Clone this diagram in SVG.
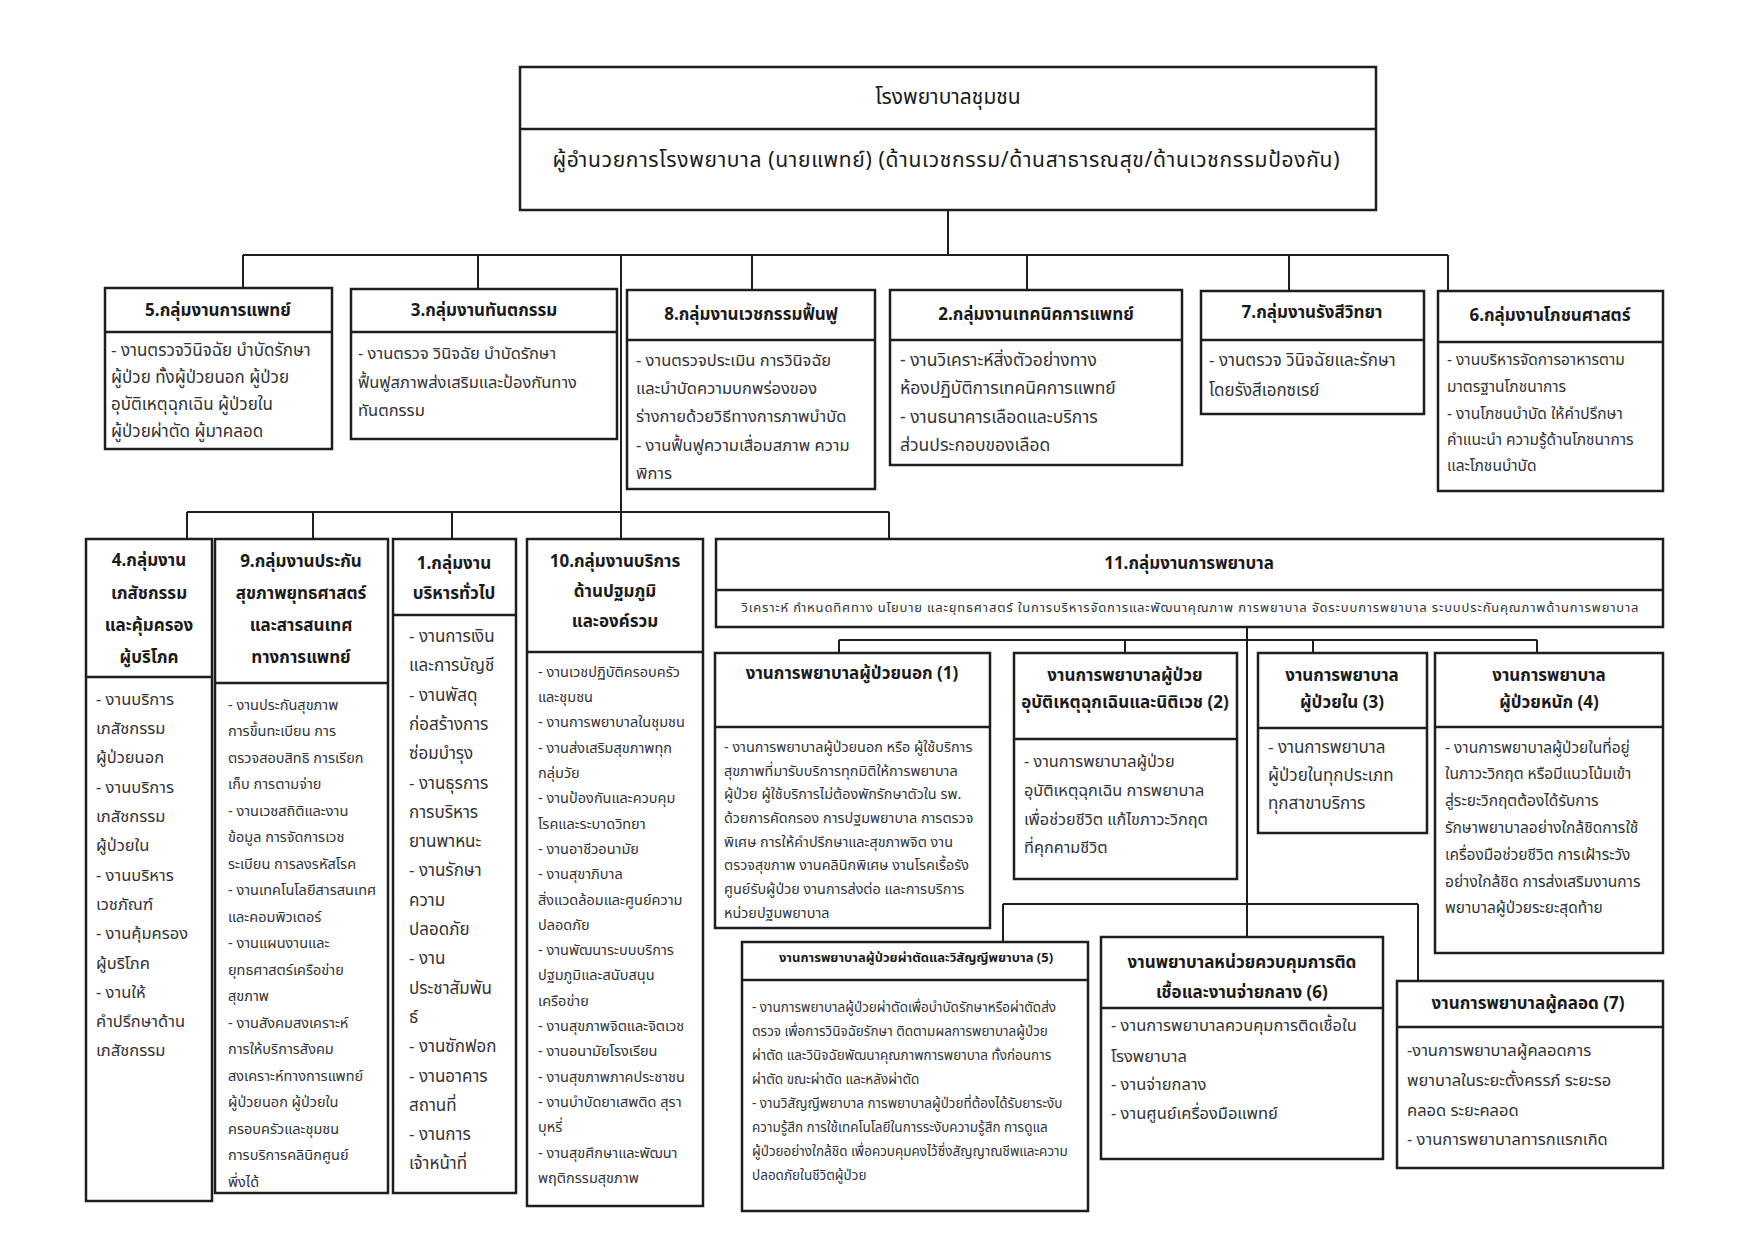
<svg xmlns="http://www.w3.org/2000/svg" width="1754" height="1240" viewBox="0 0 1754 1240">
<style>
.bx{fill:#fff;stroke:#1e1e1e;stroke-width:2.5}
.dv{stroke:#1e1e1e;stroke-width:2.5}
.cn{stroke:#1e1e1e;stroke-width:2;fill:none}
text{font-family:"Noto Sans Thai","Noto Sans","DejaVu Sans",sans-serif;fill:#1a1a1a}
.t{font-size:21px;text-anchor:middle}
.h{font-size:17px;font-weight:bold;text-anchor:middle}
.hs{font-size:13px;font-weight:bold;text-anchor:middle}
.b{fill:#333}
</style>
<rect width="1754" height="1240" fill="#fff"/>
<g id="connectors">
<path class="cn" d="M948 210V255M243 255H1448M243 255V288M478 255V289M621 255V539M752 255V290M1027 255V290M1289 255V291M1448 255V291"/>
<path class="cn" d="M187 512H889M187 512V539M313 512V539M452 512V539M889 512V539"/>
<path class="cn" d="M1247 627V937M839 640H1537M839 640V653M1125 640V653M1313 640V653M1537 640V653"/>
<path class="cn" d="M1003 904H1418M1003 904V942M1418 904V981"/>
</g>
<g id="top">
<rect class="bx" x="520" y="67" width="856" height="143"/>
<line class="dv" x1="520" y1="129" x2="1376" y2="129"/>
<text class="t" x="948" y="104">โรงพยาบาลชุมชน</text>
<text class="t" x="946" y="167" textLength="787">ผู้อำนวยการโรงพยาบาล (นายแพทย์) (ด้านเวชกรรม/ด้านสาธารณสุข/ด้านเวชกรรมป้องกัน)</text>
</g>
<g id="g5">
<rect class="bx" x="105" y="288" width="227" height="161"/>
<line class="dv" x1="105" y1="332" x2="332" y2="332"/>
<text class="h" x="218" y="316">5.กลุ่มงานการแพทย์</text>
<text class="b" font-size="17"><tspan x="111" y="356">- งานตรวจวินิจฉัย บำบัดรักษา</tspan><tspan x="111" y="383">ผู้ป่วย ทั้งผู้ป่วยนอก ผู้ป่วย</tspan><tspan x="111" y="410">อุบัติเหตุฉุกเฉิน ผู้ป่วยใน</tspan><tspan x="111" y="437">ผู้ป่วยผ่าตัด ผู้มาคลอด</tspan></text>
</g>
<g id="g3">
<rect class="bx" x="351" y="289" width="266" height="150"/>
<line class="dv" x1="351" y1="332" x2="617" y2="332"/>
<text class="h" x="484" y="316">3.กลุ่มงานทันตกรรม</text>
<text class="b" font-size="16.5"><tspan x="358" y="359">- งานตรวจ วินิจฉัย บำบัดรักษา</tspan><tspan x="358" y="388">ฟื้นฟูสภาพส่งเสริมและป้องกันทาง</tspan><tspan x="358" y="416">ทันตกรรม</tspan></text>
</g>
<g id="g8">
<rect class="bx" x="627" y="290" width="248" height="199"/>
<line class="dv" x1="627" y1="340" x2="875" y2="340"/>
<text class="h" x="751" y="320" font-size="19.5">8.กลุ่มงานเวชกรรมฟื้นฟู</text>
<text class="b" font-size="16.5"><tspan x="636" y="366">- งานตรวจประเมิน การวินิจฉัย</tspan><tspan x="636" y="394">และบำบัดความบกพร่องของ</tspan><tspan x="636" y="422">ร่างกายด้วยวิธีทางการภาพบำบัด</tspan><tspan x="636" y="451">- งานฟื้นฟูความเสื่อมสภาพ ความ</tspan><tspan x="636" y="479">พิการ</tspan></text>
</g>
<g id="g2">
<rect class="bx" x="890" y="290" width="292" height="175"/>
<line class="dv" x1="890" y1="340" x2="1182" y2="340"/>
<text class="h" x="1036" y="320" font-size="18.5">2.กลุ่มงานเทคนิคการแพทย์</text>
<text class="b" font-size="17.5"><tspan x="900" y="366">- งานวิเคราะห์สิ่งตัวอย่างทาง</tspan><tspan x="900" y="394">ห้องปฏิบัติการเทคนิคการแพทย์</tspan><tspan x="900" y="423">- งานธนาคารเลือดและบริการ</tspan><tspan x="900" y="451">ส่วนประกอบของเลือด</tspan></text>
</g>
<g id="g7">
<rect class="bx" x="1201" y="291" width="223" height="123"/>
<line class="dv" x1="1201" y1="340" x2="1424" y2="340"/>
<text class="h" x="1312" y="318">7.กลุ่มงานรังสีวิทยา</text>
<text class="b" font-size="17"><tspan x="1209" y="366">- งานตรวจ วินิจฉัยและรักษา</tspan><tspan x="1209" y="396">โดยรังสีเอกซเรย์</tspan></text>
</g>
<g id="g6">
<rect class="bx" x="1438" y="291" width="225" height="200"/>
<line class="dv" x1="1438" y1="342" x2="1663" y2="342"/>
<text class="h" x="1550" y="321">6.กลุ่มงานโภชนศาสตร์</text>
<text class="b" font-size="15.5"><tspan x="1447" y="365">- งานบริหารจัดการอาหารตาม</tspan><tspan x="1447" y="392">มาตรฐานโภชนาการ</tspan><tspan x="1447" y="419">- งานโภชนบำบัด ให้คำปรึกษา</tspan><tspan x="1447" y="445">คำแนะนำ ความรู้ด้านโภชนาการ</tspan><tspan x="1447" y="471">และโภชนบำบัด</tspan></text>
</g>
<g id="g4">
<rect class="bx" x="86" y="539" width="126" height="662"/>
<line class="dv" x1="86" y1="677" x2="212" y2="677"/>
<text class="h"><tspan x="149" y="566">4.กลุ่มงาน</tspan><tspan x="149" y="599">เภสัชกรรม</tspan><tspan x="149" y="631">และคุ้มครอง</tspan><tspan x="149" y="663">ผู้บริโภค</tspan></text>
<text class="b" font-size="16.5"><tspan x="96" y="705">- งานบริการ</tspan><tspan x="96" y="734">เภสัชกรรม</tspan><tspan x="96" y="763">ผู้ป่วยนอก</tspan><tspan x="96" y="793">- งานบริการ</tspan><tspan x="96" y="822">เภสัชกรรม</tspan><tspan x="96" y="851">ผู้ป่วยใน</tspan><tspan x="96" y="881">- งานบริหาร</tspan><tspan x="96" y="910">เวชภัณฑ์</tspan><tspan x="96" y="939">- งานคุ้มครอง</tspan><tspan x="96" y="969">ผู้บริโภค</tspan><tspan x="96" y="998">- งานให้</tspan><tspan x="96" y="1027">คำปรึกษาด้าน</tspan><tspan x="96" y="1056">เภสัชกรรม</tspan></text>
</g>
<g id="g9">
<rect class="bx" x="215" y="539" width="173" height="654"/>
<line class="dv" x1="215" y1="683" x2="388" y2="683"/>
<text class="h"><tspan x="301" y="567">9.กลุ่มงานประกัน</tspan><tspan x="301" y="599">สุขภาพยุทธศาสตร์</tspan><tspan x="301" y="631">และสารสนเทศ</tspan><tspan x="301" y="663">ทางการแพทย์</tspan></text>
<text class="b" font-size="14.5"><tspan x="228" y="710">- งานประกันสุขภาพ</tspan><tspan x="228" y="736">การขึ้นทะเบียน การ</tspan><tspan x="228" y="763">ตรวจสอบสิทธิ การเรียก</tspan><tspan x="228" y="789">เก็บ การตามจ่าย</tspan><tspan x="228" y="816">- งานเวชสถิติและงาน</tspan><tspan x="228" y="842">ข้อมูล การจัดการเวช</tspan><tspan x="228" y="869">ระเบียน การลงรหัสโรค</tspan><tspan x="228" y="895">- งานเทคโนโลยีสารสนเทศ</tspan><tspan x="228" y="922">และคอมพิวเตอร์</tspan><tspan x="228" y="948">- งานแผนงานและ</tspan><tspan x="228" y="975">ยุทธศาสตร์เครือข่าย</tspan><tspan x="228" y="1001">สุขภาพ</tspan><tspan x="228" y="1028">- งานสังคมสงเคราะห์</tspan><tspan x="228" y="1054">การให้บริการสังคม</tspan><tspan x="228" y="1081">สงเคราะห์ทางการแพทย์</tspan><tspan x="228" y="1107">ผู้ป่วยนอก ผู้ป่วยใน</tspan><tspan x="228" y="1134">ครอบครัวและชุมชน</tspan><tspan x="228" y="1160">การบริการคลินิกศูนย์</tspan><tspan x="228" y="1187">พึ่งได้</tspan></text>
</g>
<g id="g1">
<rect class="bx" x="393" y="539" width="123" height="654"/>
<line class="dv" x1="393" y1="615" x2="516" y2="615"/>
<text class="h"><tspan x="454" y="569">1.กลุ่มงาน</tspan><tspan x="454" y="599">บริหารทั่วไป</tspan></text>
<text class="b" font-size="17"><tspan x="409" y="642">- งานการเงิน</tspan><tspan x="409" y="671">และการบัญชี</tspan><tspan x="409" y="701">- งานพัสดุ</tspan><tspan x="409" y="730">ก่อสร้างการ</tspan><tspan x="409" y="759">ซ่อมบำรุง</tspan><tspan x="409" y="789">- งานธุรการ</tspan><tspan x="409" y="818">การบริหาร</tspan><tspan x="409" y="847">ยานพาหนะ</tspan><tspan x="409" y="876">- งานรักษา</tspan><tspan x="409" y="906">ความ</tspan><tspan x="409" y="935">ปลอดภัย</tspan><tspan x="409" y="964">- งาน</tspan><tspan x="409" y="994">ประชาสัมพัน</tspan><tspan x="409" y="1023">ธ์</tspan><tspan x="409" y="1052">- งานซักฟอก</tspan><tspan x="409" y="1082">- งานอาคาร</tspan><tspan x="409" y="1111">สถานที่</tspan><tspan x="409" y="1140">- งานการ</tspan><tspan x="409" y="1169">เจ้าหน้าที่</tspan></text>
</g>
<g id="g10">
<rect class="bx" x="527" y="539" width="176" height="667"/>
<line class="dv" x1="527" y1="652" x2="703" y2="652"/>
<text class="h"><tspan x="615" y="567">10.กลุ่มงานบริการ</tspan><tspan x="615" y="597">ด้านปฐมภูมิ</tspan><tspan x="615" y="627">และองค์รวม</tspan></text>
<text class="b" font-size="14.5"><tspan x="538" y="677">- งานเวชปฏิบัติครอบครัว</tspan><tspan x="538" y="702">และชุมชน</tspan><tspan x="538" y="727">- งานการพยาบาลในชุมชน</tspan><tspan x="538" y="753">- งานส่งเสริมสุขภาพทุก</tspan><tspan x="538" y="778">กลุ่มวัย</tspan><tspan x="538" y="803">- งานป้องกันและควบคุม</tspan><tspan x="538" y="829">โรคและระบาดวิทยา</tspan><tspan x="538" y="854">- งานอาชีวอนามัย</tspan><tspan x="538" y="879">- งานสุขาภิบาล</tspan><tspan x="538" y="905">สิ่งแวดล้อมและศูนย์ความ</tspan><tspan x="538" y="930">ปลอดภัย</tspan><tspan x="538" y="955">- งานพัฒนาระบบบริการ</tspan><tspan x="538" y="980">ปฐมภูมิและสนับสนุน</tspan><tspan x="538" y="1006">เครือข่าย</tspan><tspan x="538" y="1031">- งานสุขภาพจิตและจิตเวช</tspan><tspan x="538" y="1056">- งานอนามัยโรงเรียน</tspan><tspan x="538" y="1082">- งานสุขภาพภาคประชาชน</tspan><tspan x="538" y="1107">- งานบำบัดยาเสพติด สุรา</tspan><tspan x="538" y="1132">บุหรี่</tspan><tspan x="538" y="1158">- งานสุขศึกษาและพัฒนา</tspan><tspan x="538" y="1183">พฤติกรรมสุขภาพ</tspan></text>
</g>
<g id="g11">
<rect class="bx" x="716" y="539" width="947" height="88"/>
<line class="dv" x1="716" y1="590" x2="1663" y2="590"/>
<text class="h" x="1189" y="569">11.กลุ่มงานการพยาบาล</text>
<text class="b" font-size="13" x="1190" y="612" text-anchor="middle" textLength="897">วิเคราะห์ กำหนดทิศทาง นโยบาย และยุทธศาสตร์ ในการบริหารจัดการและพัฒนาคุณภาพ การพยาบาล จัดระบบการพยาบาล ระบบประกันคุณภาพด้านการพยาบาล</text>
</g>
<g id="n1">
<rect class="bx" x="715" y="653" width="275" height="275"/>
<line class="dv" x1="715" y1="727" x2="990" y2="727"/>
<text class="h" x="852" y="679" font-size="17.5">งานการพยาบาลผู้ป่วยนอก (1)</text>
<text class="b" font-size="14.4"><tspan x="724" y="752">- งานการพยาบาลผู้ป่วยนอก หรือ ผู้ใช้บริการ</tspan><tspan x="724" y="776">สุขภาพที่มารับบริการทุกมิติให้การพยาบาล</tspan><tspan x="724" y="799">ผู้ป่วย ผู้ใช้บริการไม่ต้องพักรักษาตัวใน รพ.</tspan><tspan x="724" y="823">ด้วยการคัดกรอง การปฐมพยาบาล การตรวจ</tspan><tspan x="724" y="847">พิเศษ การให้คำปรึกษาและสุขภาพจิต งาน</tspan><tspan x="724" y="870">ตรวจสุขภาพ งานคลินิกพิเศษ งานโรคเรื้อรัง</tspan><tspan x="724" y="894">ศูนย์รับผู้ป่วย งานการส่งต่อ และการบริการ</tspan><tspan x="724" y="918">หน่วยปฐมพยาบาล</tspan></text>
</g>
<g id="n2">
<rect class="bx" x="1014" y="653" width="223" height="226"/>
<line class="dv" x1="1014" y1="739" x2="1237" y2="739"/>
<text class="h" font-size="14.3"><tspan x="1125" y="681">งานการพยาบาลผู้ป่วย</tspan><tspan x="1125" y="708">อุบัติเหตุฉุกเฉินและนิติเวช (2)</tspan></text>
<text class="b" font-size="16.3"><tspan x="1024" y="767">- งานการพยาบาลผู้ป่วย</tspan><tspan x="1024" y="796">อุบัติเหตุฉุกเฉิน การพยาบาล</tspan><tspan x="1024" y="825">เพื่อช่วยชีวิต แก้ไขภาวะวิกฤต</tspan><tspan x="1024" y="853">ที่คุกคามชีวิต</tspan></text>
</g>
<g id="n3">
<rect class="bx" x="1258" y="653" width="169" height="180"/>
<line class="dv" x1="1258" y1="728" x2="1427" y2="728"/>
<text class="h"><tspan x="1342" y="681">งานการพยาบาล</tspan><tspan x="1342" y="708">ผู้ป่วยใน (3)</tspan></text>
<text class="b" font-size="17"><tspan x="1268" y="753">- งานการพยาบาล</tspan><tspan x="1268" y="781">ผู้ป่วยในทุกประเภท</tspan><tspan x="1268" y="809">ทุกสาขาบริการ</tspan></text>
</g>
<g id="n4">
<rect class="bx" x="1435" y="653" width="228" height="300"/>
<line class="dv" x1="1435" y1="727" x2="1663" y2="727"/>
<text class="h"><tspan x="1549" y="681">งานการพยาบาล</tspan><tspan x="1549" y="708">ผู้ป่วยหนัก (4)</tspan></text>
<text class="b" font-size="15.5"><tspan x="1445" y="753">- งานการพยาบาลผู้ป่วยในที่อยู่</tspan><tspan x="1445" y="779">ในภาวะวิกฤต หรือมีแนวโน้มเข้า</tspan><tspan x="1445" y="806">สู่ระยะวิกฤตต้องได้รับการ</tspan><tspan x="1445" y="833">รักษาพยาบาลอย่างใกล้ชิดการใช้</tspan><tspan x="1445" y="860">เครื่องมือช่วยชีวิต การเฝ้าระวัง</tspan><tspan x="1445" y="887">อย่างใกล้ชิด การส่งเสริมงานการ</tspan><tspan x="1445" y="913">พยาบาลผู้ป่วยระยะสุดท้าย</tspan></text>
</g>
<g id="n5">
<rect class="bx" x="742" y="942" width="346" height="269"/>
<line class="dv" x1="742" y1="980" x2="1088" y2="980"/>
<text class="hs" x="916" y="962">งานการพยาบาลผู้ป่วยผ่าตัดและวิสัญญีพยาบาล (5)</text>
<text class="b" font-size="13.5"><tspan x="752" y="1012">- งานการพยาบาลผู้ป่วยผ่าตัดเพื่อบำบัดรักษาหรือผ่าตัดส่ง</tspan><tspan x="752" y="1036">ตรวจ เพื่อการวินิจฉัยรักษา ติดตามผลการพยาบาลผู้ป่วย</tspan><tspan x="752" y="1060">ผ่าตัด และวินิจฉัยพัฒนาคุณภาพการพยาบาล ทั้งก่อนการ</tspan><tspan x="752" y="1084">ผ่าตัด ขณะผ่าตัด และหลังผ่าตัด</tspan><tspan x="752" y="1108">- งานวิสัญญีพยาบาล การพยาบาลผู้ป่วยที่ต้องได้รับยาระงับ</tspan><tspan x="752" y="1132">ความรู้สึก การใช้เทคโนโลยีในการระงับความรู้สึก การดูแล</tspan><tspan x="752" y="1156">ผู้ป่วยอย่างใกล้ชิด เพื่อควบคุมคงไว้ซึ่งสัญญาณชีพและความ</tspan><tspan x="752" y="1180">ปลอดภัยในชีวิตผู้ป่วย</tspan></text>
</g>
<g id="n6">
<rect class="bx" x="1101" y="937" width="282" height="222"/>
<line class="dv" x1="1101" y1="1008" x2="1383" y2="1008"/>
<text class="h"><tspan x="1242" y="968">งานพยาบาลหน่วยควบคุมการติด</tspan><tspan x="1242" y="998">เชื้อและงานจ่ายกลาง (6)</tspan></text>
<text class="b" font-size="16.5"><tspan x="1111" y="1031">- งานการพยาบาลควบคุมการติดเชื้อใน</tspan><tspan x="1111" y="1062">โรงพยาบาล</tspan><tspan x="1111" y="1090">- งานจ่ายกลาง</tspan><tspan x="1111" y="1119">- งานศูนย์เครื่องมือแพทย์</tspan></text>
</g>
<g id="n7">
<rect class="bx" x="1397" y="981" width="266" height="187"/>
<line class="dv" x1="1397" y1="1027" x2="1663" y2="1027"/>
<text class="h" x="1528" y="1009">งานการพยาบาลผู้คลอด (7)</text>
<text class="b" font-size="16.5"><tspan x="1407" y="1056">-งานการพยาบาลผู้คลอดการ</tspan><tspan x="1407" y="1086">พยาบาลในระยะตั้งครรภ์ ระยะรอ</tspan><tspan x="1407" y="1116">คลอด ระยะคลอด</tspan><tspan x="1407" y="1145">- งานการพยาบาลทารกแรกเกิด</tspan></text>
</g>
</svg>
